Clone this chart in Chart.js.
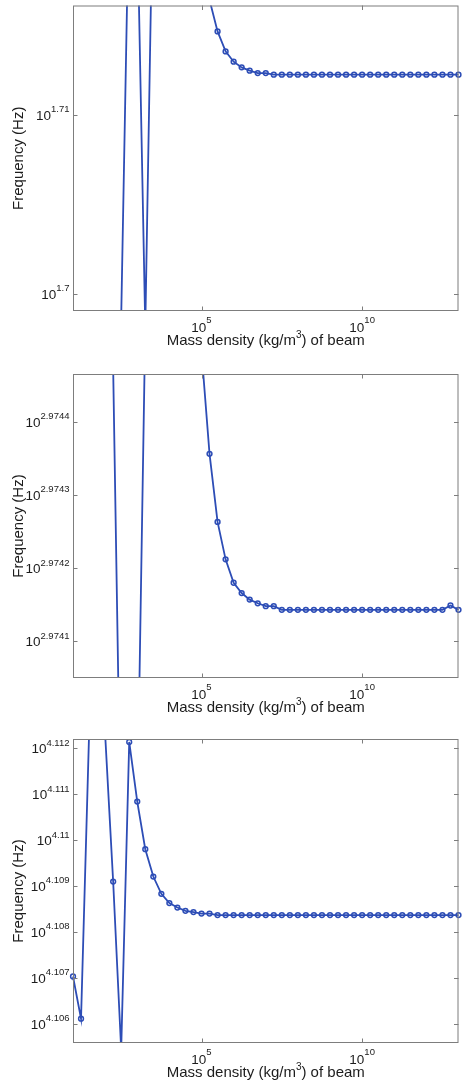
<!DOCTYPE html>
<html>
<head>
<meta charset="utf-8">
<title>Frequency vs. beam mass density</title>
<script src="https://cdn.jsdelivr.net/npm/chart.js@4.4.1/dist/chart.umd.min.js"></script>
<style>
  html, body { margin: 0; padding: 0; background: #fff; }
  #wrap { position: relative; width: 464px; height: 1081px; }
  canvas { position: absolute; left: 0; }
</style>
</head>
<body>
<div id="wrap">
  <canvas id="mode-1" width="464" height="360" style="top:0"></canvas>
  <canvas id="mode-2" width="464" height="360" style="top:360px"></canvas>
  <canvas id="mode-3" width="464" height="361" style="top:720px"></canvas>
</div>
<script>
// mass density of the beam (kg/m^3), quarter-decade steps from 1e1 to 1e13
const density = [
    1e1, 1.778e1, 3.162e1, 5.623e1,
    1e2, 1.778e2, 3.162e2, 5.623e2,
    1e3, 1.778e3, 3.162e3, 5.623e3,
    1e4, 1.778e4, 3.162e4, 5.623e4,
    1e5, 1.778e5, 3.162e5, 5.623e5,
    1e6, 1.778e6, 3.162e6, 5.623e6,
    1e7, 1.778e7, 3.162e7, 5.623e7,
    1e8, 1.778e8, 3.162e8, 5.623e8,
    1e9, 1.778e9, 3.162e9, 5.623e9,
    1e10, 1.778e10, 3.162e10, 5.623e10,
    1e11, 1.778e11, 3.162e11, 5.623e11,
    1e12, 1.778e12, 3.162e12, 5.623e12,
    1e13
];

// log10 of the natural frequency (Hz), one array per mode
const freqExp1 = [
    1.6935, 1.6918, 1.6950, 1.6927, 1.6962, 1.6941,
    1.698645, 1.722759, 1.720998, 1.698088, 1.724008,
    1.7800, 1.7610, 1.7460, 1.7330, 1.7245, 1.7194, 1.716399,
    1.714643, 1.713528, 1.712954, 1.712637, 1.712453, 1.712319, 1.712319,
    1.712230, 1.712230, 1.712230, 1.712230, 1.712230, 1.712230,
    1.712230, 1.712230, 1.712230, 1.712230, 1.712230, 1.712230,
    1.712230, 1.712230, 1.712230, 1.712230, 1.712230, 1.712230,
    1.712230, 1.712230, 1.712230, 1.712230, 1.712230, 1.712230
];
const freqExp2 = [
    2.9752, 2.9749, 2.9755, 2.9750, 2.9753,
    2.974473, 2.973804, 2.973720, 2.973863, 2.974532,
    2.9790, 2.9776, 2.9764, 2.9756, 2.97505, 2.97471, 2.974496,
    2.974356, 2.974263, 2.974212, 2.974180, 2.974166, 2.974157,
    2.974152, 2.974148, 2.974148,
    2.974143, 2.974143, 2.974143, 2.974143, 2.974143, 2.974143, 2.974143,
    2.974143, 2.974143, 2.974143, 2.974143, 2.974143, 2.974143, 2.974143,
    2.974143, 2.974143, 2.974143, 2.974143, 2.974143, 2.974143, 2.974143,
    2.974149, 2.974143
];
const freqExp3 = [
    4.107029, 4.106109, 4.112300, 4.113100, 4.112311, 4.109097,
    4.105434, 4.112137, 4.110838, 4.109802, 4.109206, 4.108829,
    4.108627, 4.108531, 4.108459, 4.108431, 4.108400, 4.108400,
    4.108366, 4.108366, 4.108366, 4.108366, 4.108366, 4.108366,
    4.108366, 4.108366, 4.108366, 4.108366, 4.108366, 4.108366,
    4.108366, 4.108366, 4.108366, 4.108366, 4.108366, 4.108366,
    4.108366, 4.108366, 4.108366, 4.108366, 4.108366, 4.108366,
    4.108366, 4.108366, 4.108366, 4.108366, 4.108366, 4.108366,
    4.108366
];

// y limits (log10 Hz) and tick exponents
const yRange1 = [1.69904, 1.71609];
const yRange2 = [2.974050, 2.974465];
const yRange3 = [4.105580, 4.112202];
const yTicks1 = ['1.7', '1.71'];
const yTicks2 = ['2.9741', '2.9742', '2.9743', '2.9744'];
const yTicks3 = ['4.106', '4.107', '4.108', '4.109', '4.11', '4.111', '4.112'];

// x limits and decade ticks
const xRange = [1e1, 1e13];
const xTicks = ['5', '10'];

const FONT = '"Liberation Sans", Arial, Helvetica, sans-serif';
const LINE = '#2d4db6';
const FRAME = '#7d7d7d';
const TEXT = '#1c1c1c';

// "10" with a raised exponent, y is the baseline of the "10"
function drawPower(ctx, exp, x, y, align, raise) {
    ctx.font = '13.5px ' + FONT;
    const wb = ctx.measureText('10').width;
    ctx.font = '9.5px ' + FONT;
    const we = ctx.measureText(exp).width;
    let left = x;
    if (align === 'right') left = x - wb - we;
    if (align === 'center') left = x - (wb + we) / 2;
    ctx.textAlign = 'left';
    ctx.textBaseline = 'alphabetic';
    ctx.font = '13.5px ' + FONT;
    ctx.fillText('10', left, y);
    ctx.font = '9.5px ' + FONT;
    ctx.fillText(exp, left + wb, y - raise);
}

// box, inward ticks and labels in the MATLAB style
const matlabAxes = {
    id: 'matlabAxes',
    afterDraw(chart, args, opts) {
        const { ctx, chartArea: a, scales } = chart;
        const x = scales.x;
        const y = scales.y;
        ctx.save();
        ctx.strokeStyle = FRAME;
        ctx.lineWidth = 1;
        ctx.strokeRect(a.left + 0.5, a.top + 0.5, a.right - a.left - 1, a.bottom - a.top - 1);

        ctx.beginPath();
        opts.yTicks.forEach(t => {
            const py = Math.round(y.getPixelForValue(Math.pow(10, parseFloat(t)))) + 0.5;
            ctx.moveTo(a.left, py); ctx.lineTo(a.left + 4.5, py);
            ctx.moveTo(a.right, py); ctx.lineTo(a.right - 4.5, py);
        });
        xTicks.forEach(t => {
            const px = Math.round(x.getPixelForValue(Math.pow(10, parseFloat(t)))) + 0.5;
            ctx.moveTo(px, a.bottom); ctx.lineTo(px, a.bottom - 4.5);
            ctx.moveTo(px, a.top); ctx.lineTo(px, a.top + 4.5);
        });
        ctx.stroke();

        ctx.fillStyle = TEXT;
        opts.yTicks.forEach(t => {
            const py = y.getPixelForValue(Math.pow(10, parseFloat(t)));
            drawPower(ctx, t, 69.5, py + 5, 'right', 7.5);
        });
        xTicks.forEach(t => {
            const px = x.getPixelForValue(Math.pow(10, parseFloat(t)));
            drawPower(ctx, t, px, a.bottom + 20.7, 'center', 8.4);
        });

        // x axis title with superscript
        const pre = 'Mass density (kg/m';
        const post = ') of beam';
        ctx.font = '15px ' + FONT;
        const w1 = ctx.measureText(pre).width;
        const w3 = ctx.measureText(post).width;
        ctx.font = '10px ' + FONT;
        const w2 = ctx.measureText('3').width;
        let lx = (a.left + a.right) / 2 - (w1 + w2 + w3) / 2;
        const by = a.bottom + 34;
        ctx.textAlign = 'left';
        ctx.font = '15px ' + FONT;
        ctx.fillText(pre, lx, by);
        ctx.font = '10px ' + FONT;
        ctx.fillText('3', lx + w1, by - 7.5);
        ctx.font = '15px ' + FONT;
        ctx.fillText(post, lx + w1 + w2, by);

        // y axis title
        ctx.translate(22.7, (a.top + a.bottom) / 2);
        ctx.rotate(-Math.PI / 2);
        ctx.textAlign = 'center';
        ctx.fillText('Frequency (Hz)', 0, 0);
        ctx.restore();
    }
};

function makeChart(id, exps, yRange, yTicks, padTop, padBottom) {
    const points = density.map((d, i) => ({ x: d, y: Math.pow(10, exps[i]) }));
    return new Chart(document.getElementById(id), {
        type: 'line',
        data: {
            datasets: [{
                data: points,
                borderColor: LINE,
                borderWidth: 1.8,
                pointRadius: 2.4,
                pointBorderWidth: 1.5,
                pointBorderColor: LINE,
                pointBackgroundColor: 'rgba(255,255,255,0)',
                tension: 0,
                // lines are cut at the box top/bottom, end markers stay whole
                clip: { left: false, right: false, top: 0, bottom: 0 }
            }]
        },
        options: {
            responsive: false,
            animation: false,
            devicePixelRatio: 1,
            layout: { padding: { left: 73, right: 4, top: padTop, bottom: padBottom } },
            plugins: {
                legend: { display: false },
                tooltip: { enabled: false },
                matlabAxes: { yTicks: yTicks }
            },
            scales: {
                x: { type: 'logarithmic', min: xRange[0], max: xRange[1], display: false },
                y: { type: 'logarithmic', min: Math.pow(10, yRange[0]), max: Math.pow(10, yRange[1]), display: false }
            }
        },
        plugins: [matlabAxes]
    });
}

Chart.defaults.font.family = FONT;

makeChart('mode-1', freqExp1, yRange1, yTicks1, 5, 49);
makeChart('mode-2', freqExp2, yRange2, yTicks2, 14, 42);
makeChart('mode-3', freqExp3, yRange3, yTicks3, 19, 38);
</script>
</body>
</html>
